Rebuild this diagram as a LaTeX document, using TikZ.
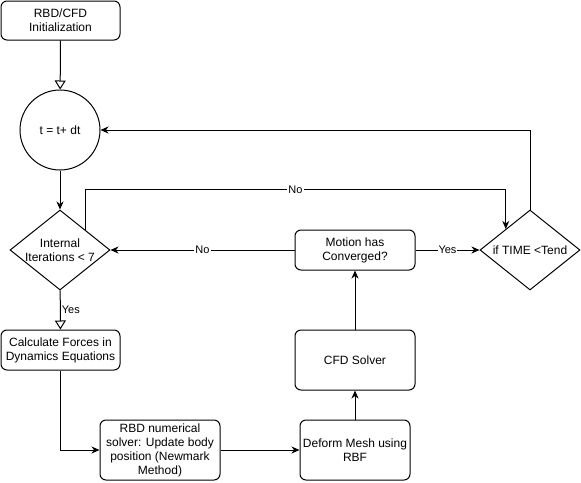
\documentclass[tikz,border=0pt]{standalone}
\usepackage{fontspec}
\setmainfont{Liberation Sans}
\usetikzlibrary{arrows.meta,shapes.geometric,calc}
\begin{document}
\begin{tikzpicture}[x=1pt,y=-1pt,
  line width=1pt,
  box/.style={draw,rounded corners=6pt,align=center,font=\fontsize{12}{14}\selectfont,inner sep=0pt},
  circ/.style={draw,circle,inner sep=0pt,minimum size=80pt,font=\fontsize{12}{14}\selectfont},
  dia/.style={draw,diamond,inner sep=0pt,minimum width=100pt,minimum height=80pt},
  diatext/.style={align=center,font=\fontsize{12}{14}\selectfont},
  arr/.style={-{Stealth[length=8pt,width=7pt,inset=2.5pt]}},
  openarr/.style={-{Triangle[open,length=9pt,width=11pt]}},
  lbl/.style={fill=white,font=\fontsize{11}{13}\selectfont,inner sep=1pt}
]
\useasboundingbox (0,0) rectangle (581,482);

\node[box,minimum width=119pt,minimum height=39pt] (init) at (60.5,20.5) {RBD/CFD\\Initialization};
\node[circ] (t) at (60,130) {t = t+ dt};
\node[dia,label={[diatext]center:Internal\\Iterations < 7}] (iter) at (60,250) {};
\node[box,minimum width=119pt,minimum height=40pt] (calc) at (60.5,350) {Calculate Forces in\\Dynamics Equations};
\node[box,minimum width=120pt,minimum height=60pt] (rbd) at (160,450) {RBD numerical\\solver: Update body\\position (Newmark\\Method)};
\node[box,minimum width=110pt,minimum height=60pt] (deform) at (355,450) {Deform Mesh using\\RBF};
\node[box,minimum width=120pt,minimum height=60pt] (cfd) at (355,360) {CFD Solver};
\node[box,minimum width=120pt,minimum height=40pt] (motion) at (355,250) {Motion has\\Converged?};
\node[dia,label={[diatext]center:if TIME <Tend}] (tend) at (530,250) {};

\coordinate (iterNE) at ($(iter.north)!0.5!(iter.east)$);
\coordinate (tendNW) at ($(tend.north)!0.48!(tend.west)$);

\draw[openarr] (init) -- (t);
\draw[arr] (t) -- (iter);
\draw[openarr] (iter) -- node[right,font=\fontsize{11}{13}\selectfont,inner sep=1pt]{Yes} (calc);
\draw[arr] (calc.south) |- (rbd.west);
\draw[arr] (rbd) -- (deform);
\draw[arr] (deform) -- (cfd);
\draw[arr] (cfd) -- (motion);
\draw[arr] (motion) -- node[lbl]{No} (iter);
\draw[arr] (motion) -- node[lbl]{Yes} (tend);
\draw[arr] (tend.north) |- (t.east);
\draw[arr] (iterNE) -- ++(0,-40) -| node[lbl,pos=0.25]{No} (tendNW);
\end{tikzpicture}
\end{document}
